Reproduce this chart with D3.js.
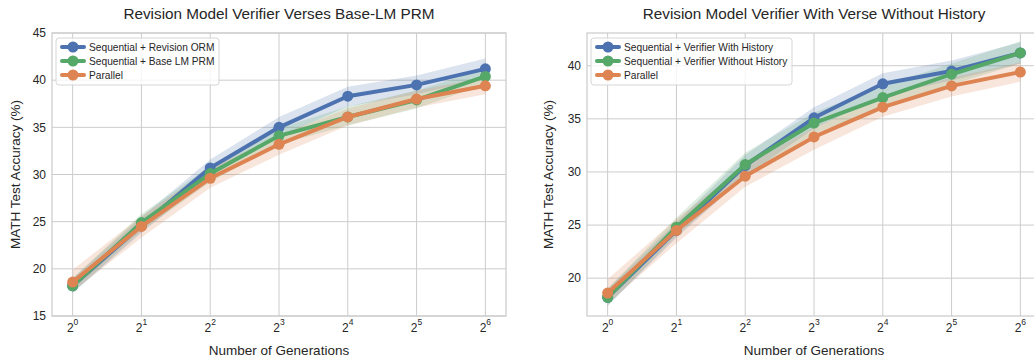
<!DOCTYPE html>
<html>
<head>
<meta charset="utf-8">
<script src="https://cdn.jsdelivr.net/npm/d3@7"></script>
<style>
  html, body { margin: 0; padding: 0; background: #fff; }
  svg { display: block; font-family: "Liberation Sans", Arial, Helvetica, sans-serif; }
</style>
</head>
<body>
<svg id="chart" width="1034" height="360"></svg>
<script>
// ---------- data ----------
const exponents = [0, 1, 2, 3, 4, 5, 6];   // x = 2^exponent generations

const leftTitle = "Revision Model Verifier Verses Base-LM PRM";
const leftNames = ["Sequential + Revision ORM", "Sequential + Base LM PRM", "Parallel"];
const leftBlue  = [18.2, 24.6, 30.7, 35.0, 38.3, 39.5, 41.2];
const leftBlueLo = [17.4, 23.8, 29.8, 34.0, 37.2, 38.5, 40.2];
const leftBlueHi = [19.0, 25.5, 31.6, 36.1, 39.3, 40.5, 42.3];
const leftGreen = [18.2, 24.9, 30.1, 34.1, 36.1, 37.9, 40.4];
const leftGreenLo = [17.5, 24.0, 29.2, 33.2, 35.2, 37.0, 39.6];
const leftGreenHi = [19.0, 25.8, 30.9, 34.9, 37.2, 38.9, 41.2];
const leftOrange = [18.6, 24.5, 29.6, 33.2, 36.1, 38.0, 39.4];
const leftOrangeLo = [17.6, 23.3, 28.6, 32.1, 35.2, 37.1, 38.5];
const leftOrangeHi = [19.9, 25.6, 30.6, 34.2, 37.0, 38.9, 40.3];
const leftYTicks = [15, 20, 25, 30, 35, 40, 45];
const leftYDomain = [15, 45];

const rightTitle = "Revision Model Verifier With Verse Without History";
const rightNames = ["Sequential + Verifier With History", "Sequential + Verifier Without History", "Parallel"];
const rightBlue  = [18.2, 24.5, 30.6, 35.1, 38.3, 39.5, 41.2];
const rightBlueLo = [17.4, 23.8, 29.6, 34.1, 37.2, 38.6, 40.2];
const rightBlueHi = [19.0, 25.3, 31.6, 36.1, 39.3, 40.5, 42.2];
const rightGreen = [18.2, 24.8, 30.7, 34.6, 37.0, 39.2, 41.2];
const rightGreenLo = [17.4, 24.0, 29.6, 33.6, 36.1, 38.2, 40.2];
const rightGreenHi = [19.0, 25.7, 31.8, 35.6, 38.1, 40.2, 42.3];
const rightOrange = [18.6, 24.5, 29.6, 33.3, 36.1, 38.1, 39.4];
const rightOrangeLo = [17.6, 23.3, 28.6, 32.1, 35.2, 37.1, 38.5];
const rightOrangeHi = [19.9, 25.6, 30.6, 34.2, 37.0, 38.9, 40.3];
const rightYTicks = [20, 25, 30, 35, 40];
const rightYDomain = [16.44, 43.08];

const colors = ["#4C72B0", "#55A868", "#DD8452"];
const xLabel = "Number of Generations";
const yLabel = "MATH Test Accuracy (%)";

// ---------- drawing ----------
const svg = d3.select("#chart");
const textColor = "#262626";
const gridColor = "#cccccc";

function drawPanel(opt) {
  const {x0, x1, y0, y1} = opt;
  const x = d3.scaleLinear().domain([-0.3, 6.3]).range([x0, x1]);
  const y = d3.scaleLinear().domain(opt.yDomain).range([y1, y0]);

  const clipId = "clip" + opt.id;
  svg.append("clipPath").attr("id", clipId)
    .append("rect").attr("x", x0).attr("y", y0).attr("width", x1 - x0).attr("height", y1 - y0);

  const g = svg.append("g");

  // grid
  g.append("g").selectAll("line").data(opt.yTicks).join("line")
    .attr("x1", x0).attr("x2", x1).attr("y1", d => y(d)).attr("y2", d => y(d))
    .attr("stroke", gridColor).attr("stroke-width", 1);
  g.append("g").selectAll("line").data(exponents).join("line")
    .attr("x1", d => x(d)).attr("x2", d => x(d)).attr("y1", y0).attr("y2", y1)
    .attr("stroke", gridColor).attr("stroke-width", 1);

  // spines
  g.append("rect").attr("x", x0).attr("y", y0).attr("width", x1 - x0).attr("height", y1 - y0)
    .attr("fill", "none").attr("stroke", gridColor).attr("stroke-width", 1.25);

  const plot = g.append("g").attr("clip-path", `url(#${clipId})`);

  // bands
  const area = d3.area().x((d) => x(d.e)).y0(d => y(d.lo)).y1(d => y(d.hi));
  opt.series.forEach((s, i) => {
    const pts = exponents.map((e, k) => ({e, lo: s.lo[k], hi: s.hi[k]}));
    plot.append("path").datum(pts).attr("d", area)
      .attr("fill", colors[i]).attr("fill-opacity", 0.2);
  });

  // lines + markers
  const line = d3.line().x(d => x(d.e)).y(d => y(d.v));
  opt.series.forEach((s, i) => {
    const pts = exponents.map((e, k) => ({e, v: s.v[k]}));
    plot.append("path").datum(pts).attr("d", line)
      .attr("fill", "none").attr("stroke", colors[i]).attr("stroke-width", 4)
      .attr("stroke-linejoin", "round").attr("stroke-linecap", "round");
    plot.append("g").selectAll("circle").data(pts).join("circle")
      .attr("cx", d => x(d.e)).attr("cy", d => y(d.v)).attr("r", 5.5)
      .attr("fill", colors[i]);
  });

  // y tick labels
  g.append("g").selectAll("text").data(opt.yTicks).join("text")
    .attr("x", x0 - 6).attr("y", d => y(d)).attr("dy", "0.35em")
    .attr("text-anchor", "end").attr("font-size", 12).attr("fill", textColor)
    .text(d => d);

  // x tick labels 2^n
  const xt = g.append("g").selectAll("text").data(exponents).join("text")
    .attr("x", d => x(d)).attr("y", y1 + 16)
    .attr("text-anchor", "middle").attr("font-size", 12).attr("fill", textColor);
  xt.append("tspan").text("2");
  xt.append("tspan").attr("dy", -7).attr("font-size", 8.5).text(d => d);

  // axis labels
  g.append("text").attr("x", (x0 + Math.min(x1, 1034 + 7)) / 2).attr("y", y1 + 39)
    .attr("text-anchor", "middle").attr("font-size", 13.5).attr("fill", textColor)
    .text(xLabel);
  g.append("text")
    .attr("transform", `translate(${opt.yLabelX},${(y0 + y1) / 2}) rotate(-90)`)
    .attr("text-anchor", "middle").attr("font-size", 13.5).attr("fill", textColor)
    .text(yLabel);

  // title
  g.append("text").attr("x", (x0 + x1) / 2).attr("y", 19)
    .attr("text-anchor", "middle").attr("font-size", 15.3).attr("fill", textColor)
    .text(opt.title);

  // legend
  const lg = g.append("g").attr("transform", `translate(${x0 + 4},${y0 + 5})`);
  const lgW = opt.legendW, lgH = 47;
  lg.append("rect").attr("width", lgW).attr("height", lgH).attr("rx", 3)
    .attr("fill", "#fff").attr("fill-opacity", 0.8)
    .attr("stroke", "#d6d6d6").attr("stroke-width", 1);
  opt.series.forEach((s, i) => {
    const row = lg.append("g").attr("transform", `translate(0,${9 + i * 14})`);
    row.append("line").attr("x1", 6).attr("x2", 28).attr("y1", 0).attr("y2", 0)
      .attr("stroke", colors[i]).attr("stroke-width", 4).attr("stroke-linecap", "round");
    row.append("circle").attr("cx", 17).attr("cy", 0).attr("r", 5.5).attr("fill", colors[i]);
    row.append("text").attr("x", 33).attr("y", 0).attr("dy", "0.35em")
      .attr("font-size", 10.2).attr("fill", textColor).text(s.name);
  });
}

drawPanel({
  id: "L", x0: 52, x1: 506, y0: 33, y1: 316,
  yDomain: leftYDomain, yTicks: leftYTicks, title: leftTitle, yLabelX: 20, legendW: 163,
  series: [
    {name: leftNames[0], v: leftBlue, lo: leftBlueLo, hi: leftBlueHi},
    {name: leftNames[1], v: leftGreen, lo: leftGreenLo, hi: leftGreenHi},
    {name: leftNames[2], v: leftOrange, lo: leftOrangeLo, hi: leftOrangeHi}
  ]
});

drawPanel({
  id: "R", x0: 587, x1: 1041, y0: 33, y1: 316,
  yDomain: rightYDomain, yTicks: rightYTicks, title: rightTitle, yLabelX: 553, legendW: 201,
  series: [
    {name: rightNames[0], v: rightBlue, lo: rightBlueLo, hi: rightBlueHi},
    {name: rightNames[1], v: rightGreen, lo: rightGreenLo, hi: rightGreenHi},
    {name: rightNames[2], v: rightOrange, lo: rightOrangeLo, hi: rightOrangeHi}
  ]
});
</script>
</body>
</html>
